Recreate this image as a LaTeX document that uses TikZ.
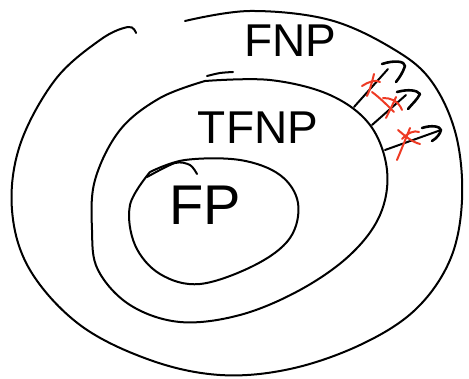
\documentclass[tikz,border=0pt]{standalone}
\usepackage{fontspec}
\setmainfont{Liberation Sans}
\definecolor{penred}{RGB}{238,58,36}
\begin{document}
\begin{tikzpicture}[x=1pt,y=-1pt,
  pen/.style={line width=2pt,line cap=round,line join=round},
  redpen/.style={pen,draw=penred},
  lbl/.style={inner sep=0pt,font=\fontsize{46}{46}\selectfont}]
\useasboundingbox (0,0) rectangle (469,379);
% outer FNP
\draw[pen] plot[smooth,tension=0.6] coordinates {(185,21) (250,11) (330,20) (395,50) (432,82) (456,135) (462,200) (450,260) (415,310) (360,345) (290,369) (220,375) (150,360) (80,325) (30,270) (12,210) (20,145) (55,80) (100,40) (128,27) (136,33)};
% middle TFNP
\draw[pen] plot[smooth,tension=0.6] coordinates {(205,81) (270,80) (330,95) (370,125) (387,170) (380,215) (350,255) (300,290) (240,315) (180,322) (130,305) (98,270) (92,230) (95,180) (120,130) (160,98) (205,81)};
\draw[pen] plot[smooth] coordinates {(207,76) (220,73) (233,72)};
% inner FP
\draw[pen] plot[smooth,tension=0.6] coordinates {(150,172) (185,160) (240,160) (280,175) (298,203) (290,238) (255,265) (200,284) (160,274) (135,245) (130,205) (150,172)};
\draw[pen] plot[smooth] coordinates {(147,177) (175,163) (190,165) (197,174)};
% labels
\node[lbl] (fnp) at (290,41) {FNP};
\node[lbl] (tfnp) at (258,128) {TFNP};
\node[lbl,font=\fontsize{56}{56}\selectfont] (fp) at (205,205) {FP};
% arrows
\coordinate (a1) at (354,107); \coordinate (t1) at (405,66);
\coordinate (a2) at (372,125); \coordinate (t2) at (420,94);
\coordinate (a3) at (385,150); \coordinate (t3) at (441,130);
\draw[pen] (a1) -- (388,69);
\draw[pen,line width=2.6pt] (382,64) .. controls (394,60) and (405,61) .. (t1) .. controls (403,72) and (400,77) .. (396,82);
\draw[pen] (a2) -- (406,95);
\draw[pen,line width=2.6pt] (397,92) .. controls (408,89) and (417,90) .. (t2) .. controls (417,100) and (412,104) .. (408,109);
\draw[pen] (a3) -- (t3);
\draw[pen,line width=2.6pt] (422,128) .. controls (431,125) and (440,126) .. (t3) .. controls (440,134) and (437,138) .. (432,141);
% red crosses
\draw[redpen] (362,86) .. controls (368,82) and (376,79) .. (380,82);
\draw[redpen] (374,74) .. controls (372,82) and (370,90) .. (367,96);
\draw[redpen] (372,92) .. controls (380,98) and (386,104) .. (394,112);
\draw[redpen] (383,98) .. controls (390,98) and (398,100) .. (402,110);
\draw[redpen] (396,97) .. controls (393,104) and (390,110) .. (386,118);
\draw[redpen] (398,130) .. controls (405,136) and (412,142) .. (420,144);
\draw[redpen] (410,128) .. controls (406,138) and (402,148) .. (397,160);
\draw[redpen] (402,139) .. controls (408,133) and (414,130) .. (419,132);
\end{tikzpicture}
\end{document}
